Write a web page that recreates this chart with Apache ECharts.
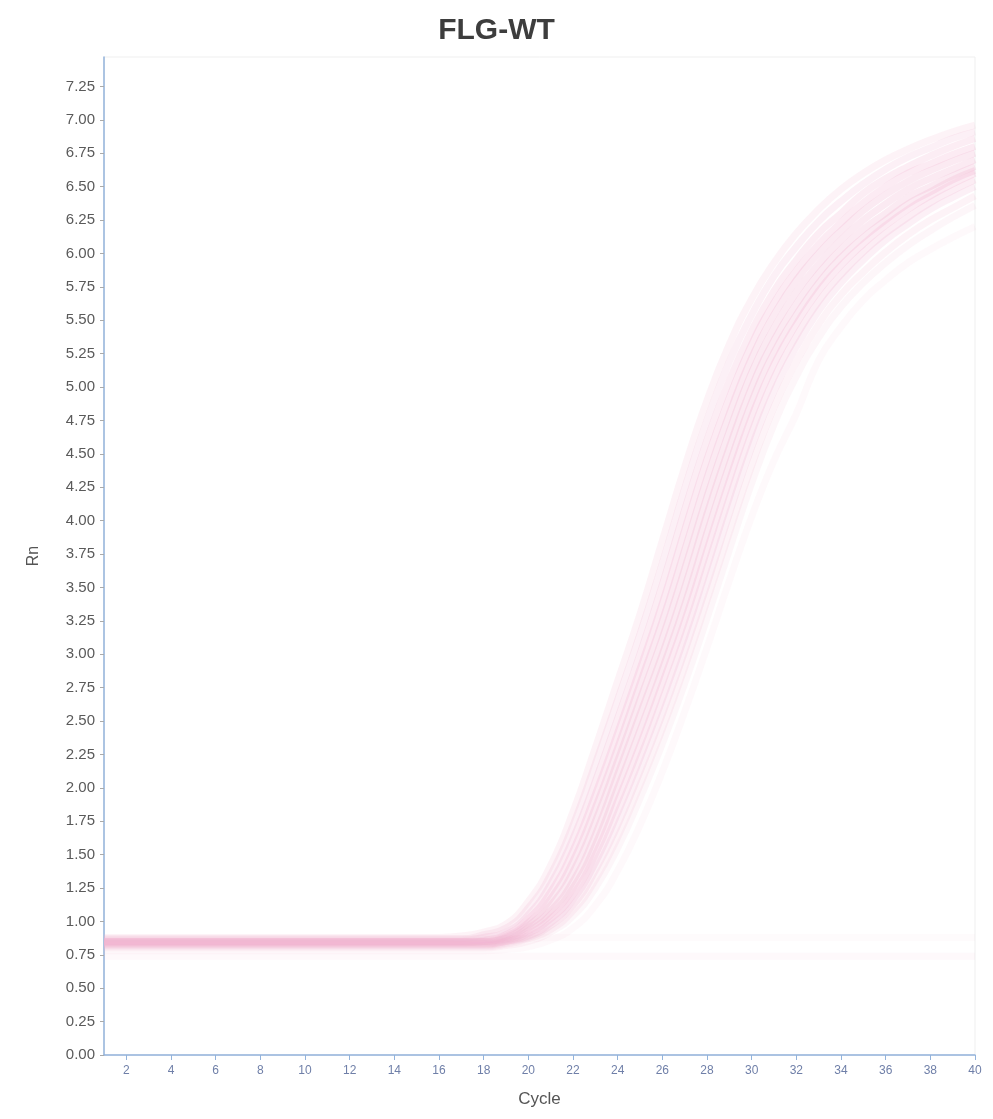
<!DOCTYPE html>
<html>
<head>
<meta charset="utf-8">
<title>FLG-WT</title>
<script src="https://cdn.jsdelivr.net/npm/echarts@6/dist/echarts.min.js"></script>
<style>
  html, body { margin: 0; padding: 0; background: #ffffff; }
  #chart { width: 993px; height: 1119px; }
</style>
</head>
<body>
<div id="chart"></div>
<script>
// Amplification cycles 1..40
const cycles = [1,2,3,4,5,6,7,8,9,10,11,12,13,14,15,16,17,18,19,20,21,22,23,24,25,26,27,28,29,30,31,32,33,34,35,36,37,38,39,40];

// Rn readings per well (cycle 1..40)
const wellH  = [0.88,0.88,0.88,0.88,0.88,0.88,0.88,0.88,0.88,0.88,0.88,0.88,0.88,0.88,0.88,0.88,0.89,0.92,0.98,1.15,1.42,1.82,2.30,2.80,3.30,3.85,4.40,4.90,5.32,5.66,5.93,6.15,6.33,6.48,6.60,6.70,6.78,6.85,6.91,6.96];
const wellHA = [0.87,0.87,0.87,0.87,0.87,0.87,0.87,0.87,0.87,0.87,0.87,0.87,0.87,0.87,0.87,0.87,0.87,0.90,0.95,1.10,1.35,1.72,2.18,2.66,3.15,3.68,4.24,4.75,5.19,5.54,5.83,6.05,6.24,6.39,6.52,6.63,6.72,6.79,6.86,6.91];
const wellA  = [0.86,0.86,0.86,0.86,0.86,0.86,0.86,0.86,0.86,0.86,0.86,0.86,0.86,0.86,0.86,0.86,0.86,0.88,0.92,1.05,1.28,1.62,2.05,2.52,3.00,3.52,4.08,4.60,5.05,5.42,5.72,5.95,6.15,6.30,6.45,6.56,6.65,6.73,6.80,6.86];
const wellAB = [0.85,0.85,0.85,0.85,0.85,0.85,0.85,0.85,0.85,0.85,0.85,0.85,0.85,0.85,0.85,0.85,0.85,0.86,0.90,1.02,1.22,1.53,1.95,2.41,2.89,3.38,3.93,4.46,4.92,5.32,5.63,5.87,6.07,6.23,6.38,6.50,6.60,6.67,6.74,6.80];
const wellB  = [0.84,0.84,0.84,0.84,0.84,0.84,0.84,0.84,0.84,0.84,0.84,0.84,0.84,0.84,0.84,0.84,0.84,0.85,0.89,0.99,1.17,1.45,1.85,2.30,2.78,3.25,3.78,4.32,4.80,5.22,5.54,5.80,6.00,6.17,6.32,6.44,6.54,6.62,6.69,6.75];
const wellBC = [0.85,0.85,0.85,0.85,0.85,0.85,0.85,0.85,0.85,0.85,0.85,0.85,0.85,0.85,0.85,0.85,0.85,0.85,0.88,0.97,1.12,1.37,1.75,2.20,2.66,3.12,3.64,4.18,4.67,5.11,5.44,5.71,5.92,6.10,6.25,6.37,6.48,6.56,6.63,6.70];
const wellC  = [0.85,0.85,0.85,0.85,0.85,0.85,0.85,0.85,0.85,0.85,0.85,0.85,0.85,0.85,0.85,0.85,0.85,0.85,0.87,0.95,1.08,1.30,1.65,2.10,2.55,3.00,3.50,4.05,4.55,5.00,5.35,5.62,5.85,6.03,6.18,6.30,6.42,6.50,6.58,6.65];
const wellCD = [0.84,0.84,0.84,0.84,0.84,0.84,0.84,0.84,0.84,0.84,0.84,0.84,0.84,0.84,0.84,0.84,0.84,0.84,0.86,0.93,1.05,1.25,1.57,2.00,2.43,2.89,3.37,3.91,4.42,4.89,5.26,5.54,5.78,5.97,6.12,6.25,6.37,6.46,6.55,6.62];
const wellD  = [0.83,0.83,0.83,0.83,0.83,0.83,0.83,0.83,0.83,0.83,0.83,0.83,0.83,0.83,0.83,0.83,0.83,0.83,0.85,0.91,1.02,1.20,1.50,1.90,2.32,2.78,3.25,3.78,4.30,4.78,5.17,5.47,5.72,5.91,6.07,6.21,6.33,6.43,6.52,6.60];
const wellDE = [0.83,0.83,0.83,0.83,0.83,0.83,0.83,0.83,0.83,0.83,0.83,0.83,0.83,0.83,0.83,0.83,0.83,0.83,0.85,0.89,0.99,1.16,1.44,1.81,2.22,2.66,3.13,3.65,4.17,4.66,5.07,5.38,5.64,5.84,6.01,6.15,6.27,6.38,6.47,6.55];
const wellE  = [0.82,0.82,0.82,0.82,0.82,0.82,0.82,0.82,0.82,0.82,0.82,0.82,0.82,0.82,0.82,0.82,0.82,0.82,0.84,0.88,0.97,1.12,1.38,1.72,2.12,2.55,3.02,3.52,4.05,4.55,4.97,5.30,5.57,5.78,5.95,6.10,6.22,6.33,6.42,6.50];
const wellEF = [0.81,0.81,0.81,0.81,0.81,0.81,0.81,0.81,0.81,0.81,0.81,0.81,0.81,0.81,0.81,0.81,0.81,0.81,0.83,0.87,0.94,1.08,1.31,1.63,2.02,2.44,2.90,3.40,3.91,4.41,4.85,5.19,5.47,5.69,5.86,6.01,6.14,6.25,6.34,6.43];
const wellF  = [0.80,0.80,0.80,0.80,0.80,0.80,0.80,0.80,0.80,0.80,0.80,0.80,0.80,0.80,0.80,0.80,0.80,0.80,0.82,0.85,0.92,1.04,1.25,1.55,1.92,2.33,2.78,3.27,3.78,4.28,4.72,5.08,5.37,5.60,5.78,5.93,6.06,6.17,6.27,6.36];
const wellG  = [0.78,0.78,0.78,0.78,0.78,0.78,0.78,0.78,0.78,0.78,0.78,0.78,0.78,0.78,0.78,0.78,0.78,0.78,0.79,0.81,0.86,0.95,1.12,1.38,1.72,2.12,2.57,3.05,3.55,4.03,4.45,4.80,5.20,5.45,5.65,5.80,5.93,6.03,6.12,6.20];
const wellN1 = [0.87,0.87,0.87,0.87,0.87,0.87,0.87,0.87,0.87,0.87,0.87,0.87,0.87,0.87,0.87,0.87,0.87,0.87,0.87,0.87,0.88,0.88,0.88,0.88,0.88,0.88,0.88,0.88,0.88,0.88,0.88,0.88,0.88,0.88,0.88,0.88,0.88,0.88,0.88,0.88];
const wellN2 = [0.74,0.74,0.74,0.74,0.74,0.74,0.74,0.74,0.74,0.74,0.74,0.74,0.74,0.74,0.74,0.74,0.74,0.74,0.74,0.74,0.74,0.74,0.74,0.74,0.74,0.74,0.74,0.74,0.74,0.74,0.74,0.74,0.74,0.74,0.74,0.74,0.74,0.74,0.74,0.74];

const wells = [
  { name: 'H',  data: wellH,  alpha: 0.16 },
  { name: 'HA', data: wellHA, alpha: 0.20 },
  { name: 'A',  data: wellA,  alpha: 0.24 },
  { name: 'AB', data: wellAB, alpha: 0.26 },
  { name: 'B',  data: wellB,  alpha: 0.28 },
  { name: 'BC', data: wellBC, alpha: 0.28 },
  { name: 'C',  data: wellC,  alpha: 0.28 },
  { name: 'CD', data: wellCD, alpha: 0.28 },
  { name: 'D',  data: wellD,  alpha: 0.26 },
  { name: 'DE', data: wellDE, alpha: 0.24 },
  { name: 'E',  data: wellE,  alpha: 0.20 },
  { name: 'EF', data: wellEF, alpha: 0.16 },
  { name: 'F',  data: wellF,  alpha: 0.12 },
  { name: 'G',  data: wellG,  alpha: 0.08 },
  { name: 'N1', data: wellN1, alpha: 0.06 },
  { name: 'N2', data: wellN2, alpha: 0.08 }
];

const chart = echarts.init(document.getElementById('chart'), null, { renderer: 'canvas' });

const evenOnly = (index, value) => Number(value) % 2 === 0;

chart.setOption({
  backgroundColor: '#ffffff',
  animation: false,
  title: {
    text: 'FLG-WT',
    left: 'center',
    top: 11,
    textStyle: {
      fontFamily: '"Liberation Sans", Arial, sans-serif',
      fontWeight: 'bold',
      fontSize: 30,
      color: '#3d3d3d'
    }
  },
  grid: {
    left: 104, right: 18, top: 57, bottom: 64,
    show: true,
    borderColor: '#efefef',
    borderWidth: 1,
    backgroundColor: 'transparent'
  },
  xAxis: {
    type: 'category',
    data: cycles.map(String),
    boundaryGap: false,
    name: 'Cycle',
    nameLocation: 'middle',
    nameGap: 36,
    nameTextStyle: { fontFamily: '"Liberation Sans", Arial, sans-serif', fontSize: 17, color: '#555555' },
    axisLine: { lineStyle: { color: '#93b3db', width: 1.5 } },
    axisTick: { show: true, interval: evenOnly, length: 5, lineStyle: { color: '#93b3db' } },
    axisLabel: {
      interval: evenOnly,
      fontFamily: '"Liberation Sans", Arial, sans-serif',
      fontSize: 12,
      color: '#6f7fa8',
      margin: 10
    },
    splitLine: { show: false }
  },
  yAxis: {
    type: 'value',
    min: 0,
    max: 7.47,
    interval: 0.25,
    name: 'Rn',
    nameLocation: 'middle',
    nameGap: 62,
    nameTextStyle: { fontFamily: '"Liberation Sans", Arial, sans-serif', fontSize: 16, color: '#555555' },
    axisLine: { show: true, lineStyle: { color: '#93b3db', width: 1.5 } },
    axisTick: { show: true, length: 4, lineStyle: { color: '#aaaaaa' } },
    axisLabel: {
      showMaxLabel: false,
      formatter: v => v.toFixed(2),
      fontFamily: '"Liberation Sans", Arial, sans-serif',
      fontSize: 15,
      color: '#5a5a5a',
      margin: 9
    },
    splitLine: { show: false }
  },
  series: wells.map(w => ({
    name: w.name,
    type: 'line',
    data: w.data,
    smooth: true,
    symbol: 'none',
    lineStyle: { color: '#f2b3d0', width: 7, opacity: w.alpha },
    z: 2
  }))
});
</script>
</body>
</html>
